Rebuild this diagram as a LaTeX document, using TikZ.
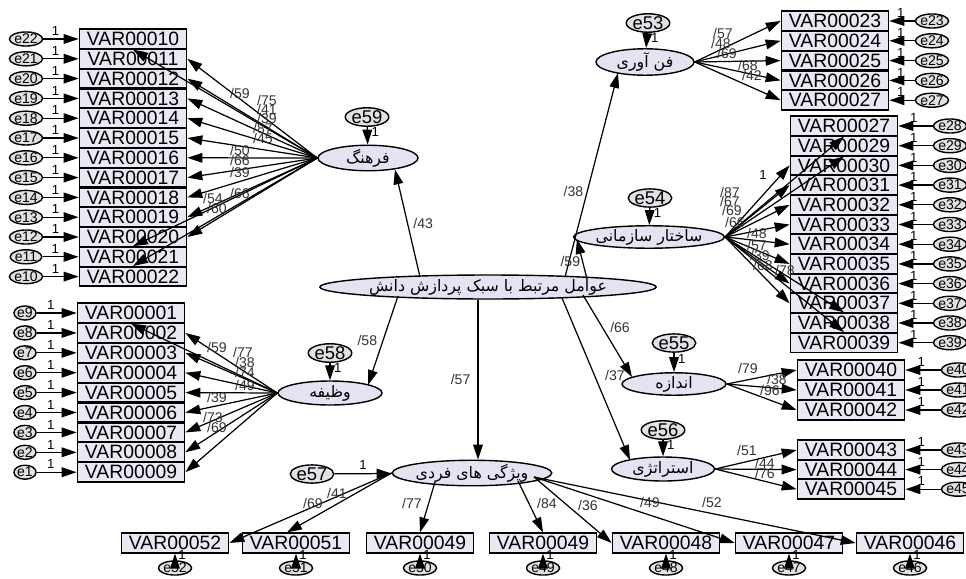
\documentclass[tikz,border=0pt]{standalone}
\usepackage{fontspec}
\setmainfont{Liberation Sans}
\newfontfamily\farsi[Script=Arabic]{DejaVu Sans}
\TeXXeTstate=1
\usepackage{xcolor}
\usepackage{tikz}
\usetikzlibrary{arrows.meta,positioning,calc,shapes.geometric}

\definecolor{indc}{RGB}{236,232,243}
\definecolor{latc}{RGB}{229,226,242}
\definecolor{errc}{RGB}{226,226,230}

\begin{document}
\begin{tikzpicture}[
  x=0.02cm, y=-0.02cm,
  ind/.style={draw,line width=1pt,fill=indc,minimum width=2.14cm,
              minimum height=0.39cm,inner sep=0pt,font=\fontsize{11}{11}\selectfont},
  lat/.style={draw,ellipse,line width=0.8pt,fill=latc,inner sep=0pt,
              font=\farsi\fontsize{9}{9}\selectfont},
  err/.style={draw,ellipse,line width=0.8pt,fill=errc,minimum width=0.4cm,
              minimum height=0.28cm,inner sep=0pt,font=\fontsize{8}{8}\selectfont},
  bigerr/.style={err,minimum width=0.68cm,minimum height=0.36cm,
              font=\fontsize{10.5}{10.5}\selectfont},
  arr/.style={-{Triangle[length=8.5pt,width=5.5pt]},line width=0.7pt},
  lbl/.style={font=\fontsize{8}{8}\selectfont,text=black!80,inner sep=0pt},
  one/.style={font=\fontsize{7.5}{7.5}\selectfont,inner sep=0pt}
]
\useasboundingbox (0,0) rectangle (966,578);
\fill[white] (0,0) rectangle (966,578);

% latent variables
\node[lat,minimum width=5.2cm,minimum height=0.48cm] (cen) at (488,287) {\beginR عوامل مرتبط با سبک پردازش دانش\endR};
\node[lat,minimum width=2.0cm,minimum height=0.48cm] (far) at (368,158) {\beginR فرهنگ\endR};
\node[lat,minimum width=2.08cm,minimum height=0.48cm] (vaz) at (330,393) {\beginR وظیفه\endR};
\node[lat,minimum width=1.96cm,minimum height=0.52cm] (fan) at (645,62) {\beginR فن آوری\endR};
\node[lat,minimum width=2.04cm,minimum height=0.44cm] (sak) at (649,237) {\beginR ساختار سازمانی\endR};
\node[lat,minimum width=2.08cm,minimum height=0.44cm] (and) at (674,384) {\beginR اندازه\endR};
\node[lat,minimum width=2.06cm,minimum height=0.48cm] (str) at (663,469) {\beginR استراتژی\endR};
\node[lat,minimum width=2.7cm,minimum height=0.44cm] (vf) at (472,473) {\beginR ویژگی های فردی\endR};

% disturbances
\node[bigerr] (e59) at (367,117) {e59};
\node[bigerr] (e58) at (330,353) {e58};
\node[bigerr] (e53) at (648,23) {e53};
\node[bigerr] (e54) at (650,198) {e54};
\node[bigerr] (e55) at (674,343) {e55};
\node[bigerr] (e56) at (663,430) {e56};
\node[bigerr] (e57) at (312,474) {e57};
\draw[arr] (e59) -- node[one,right=2pt,pos=0.3]{1} (far);
\draw[arr] (e58) -- node[one,right=2pt,pos=0.3]{1} (vaz);
\draw[arr] (e53) -- node[one,right=2pt,pos=0.3]{1} (fan);
\draw[arr] (e54) -- node[one,right=2pt,pos=0.3]{1} (sak);
\draw[arr] (e55) -- node[one,right=2pt,pos=0.3]{1} (and);
\draw[arr] (e56) -- node[one,right=2pt,pos=0.3]{1} (str);
\draw[arr] (e57) -- node[one,above=2pt]{1} (vf);

% structural paths
\draw[arr] ($(cen)+(-68,-10)$) -- node[lbl,right=3pt]{/43} ($(far.south)+(27,-2)$);
\draw[arr] ($(cen)+(77,-10)$) -- node[lbl,left=2pt,pos=0.42]{/38} ($(fan)+(-27,11)$);
\draw[arr] ($(cen)+(99,-8)$) -- node[lbl,left=1pt,pos=0.45]{/59} ($(sak.west)+(4,2)$);
\draw[arr] ($(cen)+(-90,9)$) -- node[lbl,left=3pt]{/58} ($(vaz)+(38,-8)$);
\draw[arr] ($(cen.south)+(-10,0)$) -- node[lbl,left=4pt]{/57} ($(vf.north)+(6,0)$);
\draw[arr] ($(cen)+(95,8)$) -- node[lbl,right=4pt,pos=0.4]{/66} ($(and)+(-42,-7)$);
\draw[arr] ($(cen)+(74,11)$) -- ($(str)+(-33,-9)$);
\node[lbl] (p37) at (615,375) {/37};

% indicators of culture
\foreach \v/\e [count=\i from 0] in {10/22,11/21,12/20,13/19,14/18,15/17,16/16,17/15,18/14,19/13,20/12,21/11,22/10} {
  \node[ind] (v\v) at (133,39+19.8*\i) {VAR000\v};
  \node[err] (e\e) at (26,39+19.8*\i) {e\e};
  \draw[arr] (e\e) -- node[one,above=1.5pt,pos=0.35]{1} (v\v);
}
\foreach \v/\a in {10/south,11/east,12/east,13/east,14/east,15/east,16/east,17/east,18/east,19/east,20/east,21/north,22/north}
  \draw[arr] (far.west) -- (v\v.\a);
\foreach \t/\x/\y [count=\i] in {59/240/93,75/267/100,41/267/109,39/267/118,87/263/128,45/263/138,50/240/150,66/240/160,39/240/172,66/240/193,54/213/198,60/217/208}
  \node[lbl] (lf\i) at (\x,\y) {/\t};

% indicators of task
\foreach \v/\e [count=\i from 0] in {01/9,02/8,03/7,04/6,05/5,06/4,07/3,08/2,09/1} {
  \node[ind] (v\v) at (131,313+19.9*\i) {VAR000\v};
  \node[err] (e\e) at (25,313+19.9*\i) {e\e};
  \draw[arr] (e\e) -- node[one,above=1.5pt,pos=0.35]{1} (v\v);
}
\foreach \v/\a in {01/south,02/east,03/east,04/east,05/east,06/east,07/east,08/east,09/east}
  \draw[arr] (vaz.west) -- (v\v.\a);
\foreach \t/\x/\y [count=\i] in {59/217/347,77/243/352,38/245/362,74/245/372,49/245/385,39/217/397,73/213/417,69/217/427}
  \node[lbl] (lv\i) at (\x,\y) {/\t};

% indicators of technology
\foreach \v [count=\i from 0] in {23,24,25,26,27} {
  \node[ind] (v\v) at (835,21+19.8*\i) {VAR000\v};
  \node[err] (e\v) at (932,21+19.8*\i) {e\v};
  \draw[arr] (e\v) -- node[one,above=1.5pt,pos=0.55]{1} (v\v);
  \draw[arr] (fan.east) -- (v\v.west);
}
\foreach \t/\x/\y [count=\i] in {57/723/33,48/721/43,69/727/53,68/748/65,42/752/75}
  \node[lbl] (lt\i) at (\x,\y) {/\t};

% indicators of organisational structure
\foreach \t/\e [count=\i from 0] in {27/28,29/29,30/30,31/31,32/32,33/33,34/34,35/35,36/36,37/37,38/38,39/39} {
  \node[ind] (v\e) at (844,126+19.7*\i) {VAR000\t};
  \node[err] (e\e) at (950,126+19.7*\i) {e\e};
  \draw[arr] (e\e) -- node[one,above=1.5pt,pos=0.55]{1} (v\e);
}
\foreach \e/\a in {28/south,29/south,30/west,31/west,32/west,33/west,34/west,35/west,36/west,37/west,38/north,39/north}
  \draw[arr] (sak.east) -- (v\e.\a);
\node[one] (ls0) at (763,175) {1};
\foreach \t/\x/\y [count=\i] in {87/730/192,67/730/201,69/732/210,66/735/222,48/757/233,57/757/245,39/760/255,68/763/265,78/785/270}
  \node[lbl] (ls\i) at (\x,\y) {/\t};

% indicators of size
\foreach \v [count=\i from 0] in {40,41,42} {
  \node[ind] (v\v) at (851,370+20*\i) {VAR000\v};
  \node[err] (e\v) at (958,370+20*\i) {e\v};
  \draw[arr] (e\v) -- node[one,above=1.5pt,pos=0.55]{1} (v\v);
  \draw[arr] (and.east) -- (v\v.west);
}
\foreach \t/\x/\y [count=\i] in {79/748/368,38/777/379,96/770/390}
  \node[lbl] (la\i) at (\x,\y) {/\t};

% indicators of strategy
\foreach \v [count=\i from 0] in {43,44,45} {
  \node[ind] (v\v) at (851,450+19.6*\i) {VAR000\v};
  \node[err] (e\v) at (958,450+19.6*\i) {e\v};
  \draw[arr] (e\v) -- node[one,above=1.5pt,pos=0.55]{1} (v\v);
  \draw[arr] (str.east) -- (v\v.west);
}
\foreach \t/\x/\y [count=\i] in {51/747/450,44/765/463,76/765/473}
  \node[lbl] (lr\i) at (\x,\y) {/\t};

% indicators of individual characteristics
\foreach \t/\e/\x in {52/52/175,51/51/296,49/50/420,49/49/543,48/48/666,47/47/789,46/46/910} {
  \node[ind] (v\e) at (\x,543) {VAR000\t};
  \node[err] (e\e) at (\x,568) {e\e};
  \draw[arr] (e\e) -- node[one,right=1.5pt,pos=0.75]{1} (v\e);
}
\draw[arr] (vf.west) -- (v52.east);
\draw[arr] (vf.west) -- ($(v51.north)+(-9,0)$);
\draw[arr] ($(vf)+(-37,9)$) -- (v50.north);
\draw[arr] ($(vf)+(46,8)$) -- (v49.north);
\draw[arr] ($(vf)+(62,4)$) -- (v48.west);
\draw[arr] ($(vf)+(62,4)$) -- (v47.west);
\draw[arr] ($(vf)+(62,4)$) -- (v46.west);
\foreach \t/\x/\y [count=\i] in {69/313/503,41/337/493,77/412/503,84/547/503,36/588/505,49/650/502,52/712/502}
  \node[lbl] (lb\i) at (\x,\y) {/\t};
\end{tikzpicture}
\end{document}
